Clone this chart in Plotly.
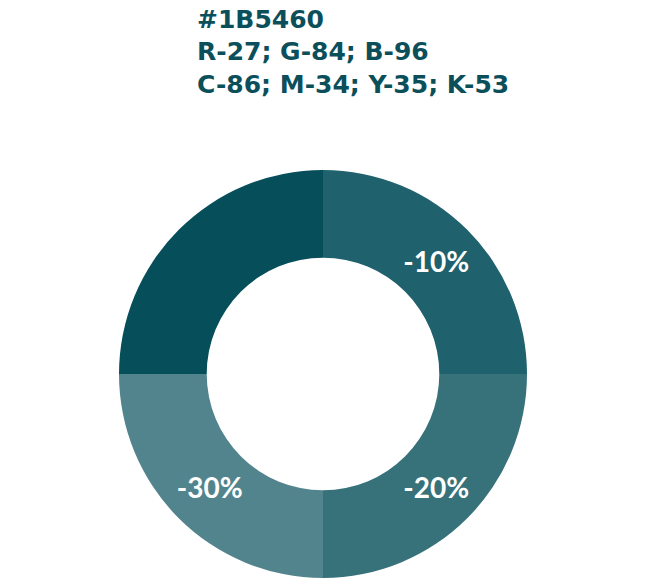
import plotly.graph_objects as go

labels = ["-10%", "-20%", "-30%", "Base"]
values = [1, 1, 1, 1]
slice_text = ["-10%", "-20%", "-30%", ""]
colors = ["#1F616C", "#37727B", "#52848D", "#064E5A"]
header_lines = ["#1B5460", "R-27; G-84; B-96", "C-86; M-34; Y-35; K-53"]

W, H = 648, 587
cx, cy, r = 323, 374, 204

fig = go.Figure(go.Pie(
    labels=labels,
    values=values,
    text=slice_text,
    textinfo="text",
    textposition="inside",
    insidetextorientation="horizontal",
    textfont=dict(family="Lato", size=28, color="white", weight="bold"),
    marker=dict(colors=colors, line=dict(width=0)),
    hole=0.57,
    sort=False,
    direction="clockwise",
    rotation=0,
    showlegend=False,
    hoverinfo="none",
    domain=dict(x=[(cx - r) / W, (cx + r) / W], y=[(H - cy - r) / H, (H - cy + r) / H]),
))

line_mid_px = [19, 51.5, 84]
for t, ym in zip(header_lines, line_mid_px):
    fig.add_annotation(
        xref="paper", yref="paper",
        x=195 / W, y=1 - ym / H,
        xanchor="left", yanchor="middle",
        align="left",
        showarrow=False,
        text=f"<b>{t}</b>",
        font=dict(family="DejaVu Sans", size=25, color="#0B4F5B"),
    )

fig.update_layout(
    width=W, height=H,
    margin=dict(l=0, r=0, t=0, b=0),
    paper_bgcolor="white",
    plot_bgcolor="white",
)

fig.write_html("out.html")
